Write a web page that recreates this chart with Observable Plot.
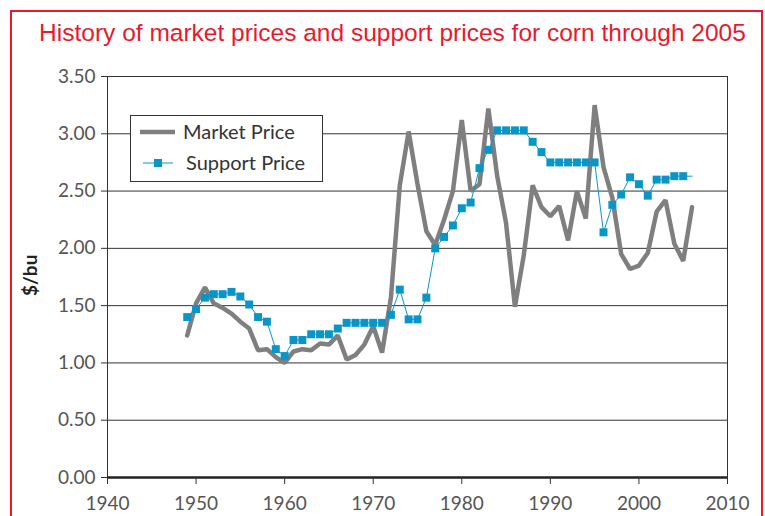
<!DOCTYPE html>
<html><head><meta charset="utf-8">
<script src="https://cdn.jsdelivr.net/npm/d3@7"></script>
<script src="https://cdn.jsdelivr.net/npm/@observablehq/plot@0.6"></script>
<style>
body{margin:0;background:#fff;overflow:hidden}
#wrap{position:relative;width:765px;height:516px;overflow:hidden;background:#fff}
#border{position:absolute;left:10px;top:10px;width:753px;height:600px;border:2px solid #e8192c;box-sizing:border-box;pointer-events:none}
#title{position:absolute;left:16px;width:753px;top:19px;text-align:center;font:24.5px "Liberation Sans",Arial,sans-serif;color:#e8192c;white-space:nowrap}
#legend{position:absolute;left:130px;top:115px;width:193px;height:67px;border:1.5px solid #333;background:#fff;box-sizing:border-box}
#chart{position:absolute;left:0;top:0}
</style>
</head><body>
<div id="wrap">
  <div id="chart"></div>
  <div id="title">History of market prices and support prices for corn through 2005</div>
  <div id="legend">
    <svg width="193" height="67" style="position:absolute;left:-1.5px;top:-1.5px">
      <line x1="10" x2="45" y1="17" y2="17" stroke="#7f7f7f" stroke-width="4.5"/>
      <text x="53" y="24" font-family="Lato" font-size="20" fill="#333">Market Price</text>
      <line x1="13" x2="43" y1="48" y2="48" stroke="#0896c8" stroke-width="1"/>
      <rect x="24" y="44" width="8" height="8" fill="#0896c8"/>
      <text x="56" y="55" font-family="Lato" font-size="20" fill="#333">Support Price</text>
    </svg>
  </div>
  <div id="border"></div>
</div>
<script>
const years = [1949,1950,1951,1952,1953,1954,1955,1956,1957,1958,1959,1960,1961,1962,1963,1964,1965,1966,1967,1968,1969,1970,1971,1972,1973,1974,1975,1976,1977,1978,1979,1980,1981,1982,1983,1984,1985,1986,1987,1988,1989,1990,1991,1992,1993,1994,1995,1996,1997,1998,1999,2000,2001,2002,2003,2004,2005,2006];
const marketPrice = [1.24,1.52,1.66,1.52,1.48,1.43,1.36,1.30,1.11,1.12,1.05,1.00,1.10,1.12,1.11,1.17,1.16,1.24,1.03,1.07,1.16,1.32,1.09,1.57,2.55,3.02,2.56,2.15,2.03,2.25,2.50,3.12,2.50,2.56,3.22,2.63,2.22,1.49,1.94,2.55,2.36,2.28,2.37,2.07,2.50,2.26,3.25,2.71,2.44,1.95,1.82,1.85,1.96,2.32,2.42,2.04,1.89,2.36];
const supportPrice = [1.40,1.47,1.57,1.60,1.60,1.62,1.58,1.51,1.40,1.36,1.12,1.06,1.20,1.20,1.25,1.25,1.25,1.30,1.35,1.35,1.35,1.35,1.35,1.42,1.64,1.38,1.38,1.57,2.00,2.10,2.20,2.35,2.40,2.70,2.86,3.03,3.03,3.03,3.03,2.93,2.84,2.75,2.75,2.75,2.75,2.75,2.75,2.14,2.38,2.47,2.62,2.56,2.46,2.60,2.60,2.63,2.63,2.63];
const supportMarkerLastYear = 2005;
const xTicks = [1940,1950,1960,1970,1980,1990,2000,2010];
const yTicks = [0,0.5,1,1.5,2,2.5,3,3.5];
const yLabel = "$/bu";

const market = years.map((y,i)=>({year:y, value:marketPrice[i]}));
const support = years.map((y,i)=>({year:y, value:supportPrice[i]}));
const blue = "#0896c8";

const chart = Plot.plot({
  width: 765, height: 516,
  marginLeft: 107, marginRight: 38, marginTop: 76, marginBottom: 39,
  x: {domain: [1940, 2010]},
  y: {domain: [0, 3.5]},
  style: {fontFamily: "Lato", fontSize: "19px", color: "#555", background: "transparent"},
  marks: [
    Plot.ruleY(yTicks.filter(d=>d>0), {stroke: "#333", strokeWidth: 1}),
    Plot.ruleX([2010], {stroke: "#333", strokeWidth: 1}),
    Plot.ruleX([1940], {stroke: "#333", strokeWidth: 1}),
    Plot.ruleY([0], {stroke: "#222", strokeWidth: 2.5}),
    Plot.axisY(yTicks, {tickFormat: d => d.toFixed(2), tickSize: 6, tickPadding: 6, label: null, stroke: "#333", fill: "#555", fontSize: 19}),
    Plot.axisX(xTicks, {tickFormat: d => String(d), tickSize: 7, tickPadding: 12, label: null, stroke: "#333", fill: "#555", fontSize: 19, textStroke: null}),
    Plot.line(market, {x: "year", y: "value", stroke: "#7f7f7f", strokeWidth: 4.5, strokeLinejoin: "miter"}),
    Plot.line(support, {x: "year", y: "value", stroke: blue, strokeWidth: 1}),
    Plot.dot(support.filter(d => d.year <= supportMarkerLastYear), {x: "year", y: "value", symbol: "square", r: 4.5, fill: blue, stroke: null}),
    Plot.text([yLabel], {frameAnchor: "left", dx: -77, dy: 19, rotate: -90, fontWeight: "bold", fontSize: 19, fill: "#222", fontFamily: "Lato"})
  ]
});
document.getElementById("chart").appendChild(chart);
</script>
</body></html>
